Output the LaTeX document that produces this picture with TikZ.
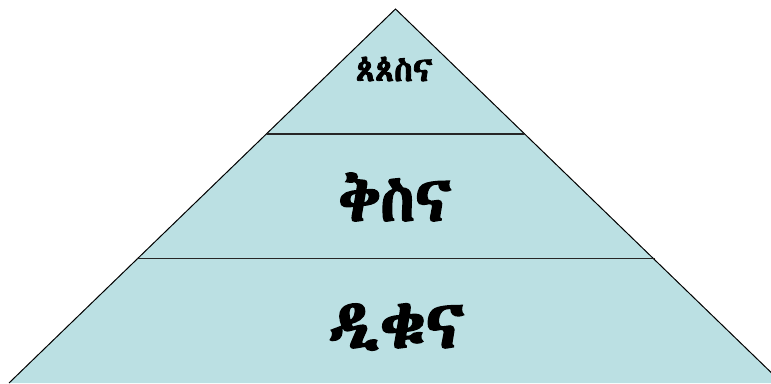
\documentclass[tikz,border=0pt]{standalone}
\usepackage{fontspec}
\IfFontExistsTF{Abyssinica SIL}{%
  \newfontfamily\ethfont[Script=Ethiopic,AutoFakeBold=2.5]{Abyssinica SIL}}{%
  \IfFontExistsTF{FreeSerif}{%
    \newfontfamily\ethfont[Script=Ethiopic,AutoFakeBold=2.5]{FreeSerif}}{%
    \newfontfamily\ethfont[Script=Ethiopic,AutoFakeBold=2.5]{DejaVu Sans}}}
\definecolor{pyr}{HTML}{BBE0E3}
\begin{document}
\begin{tikzpicture}[x=1pt,y=-1pt,
  lvl/.style={text=black, inner sep=0pt}]
\useasboundingbox (0,0) rectangle (771,383);
\begin{scope}
\clip (0,0) rectangle (771,383);
\coordinate (apex) at (395.5,9);
\coordinate (bl) at (9,383);
\coordinate (br) at (782,383);
\fill[pyr] (apex) -- (bl) -- (br) -- cycle;
\draw[line width=1pt] (bl) -- (apex) -- (br);
\coordinate (l1a) at (267,134);
\coordinate (l1b) at (524,134);
\coordinate (l2a) at (137,258.5);
\coordinate (l2b) at (655,258.5);
\draw[line width=1.7pt, black!85] (l1a) -- (l1b);
\draw[line width=1.7pt, black!85] (l2a) -- (l2b);
\end{scope}
\node[lvl, font=\ethfont\bfseries\fontsize{34}{38}\selectfont] (t1) at (394,69) {ጰጰስና};
\node[lvl, font=\ethfont\bfseries\fontsize{63}{70}\selectfont] (t2) at (395,197) {ቅስና};
\node[lvl, font=\ethfont\bfseries\fontsize{67}{74}\selectfont] (t3) at (396,327) {ዲቁና};
\end{tikzpicture}
\end{document}
